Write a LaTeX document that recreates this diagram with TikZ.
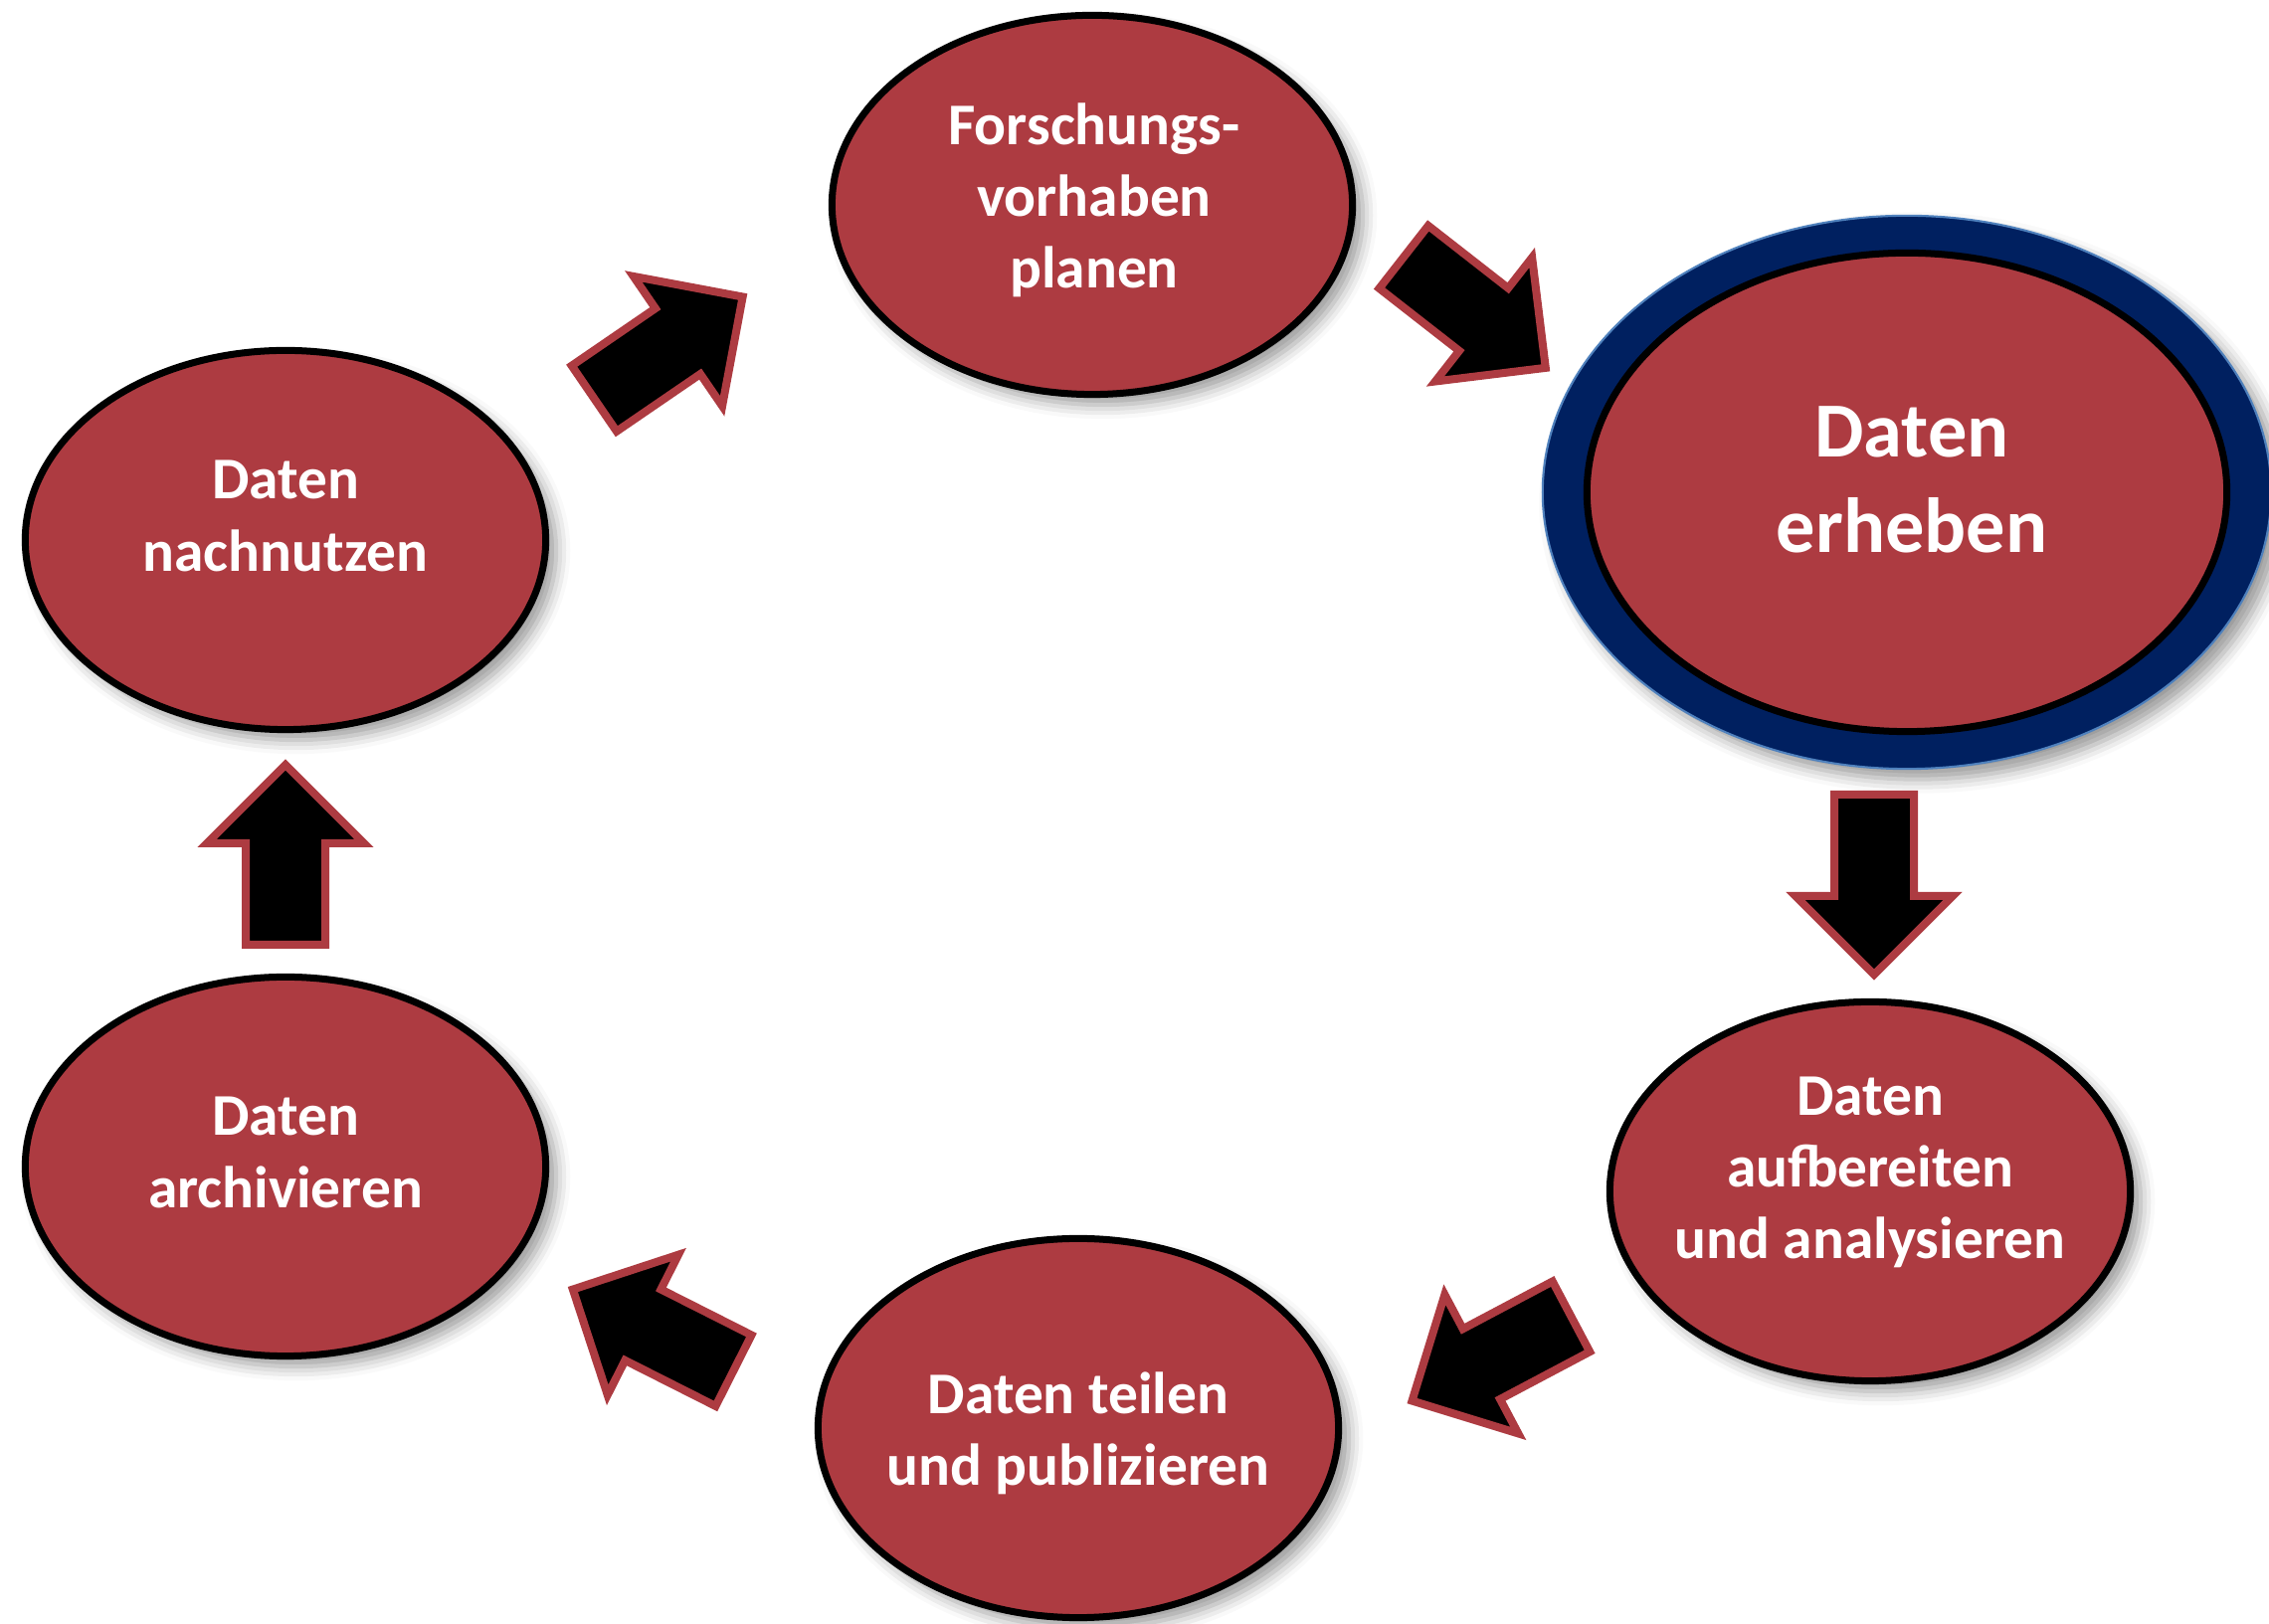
\documentclass[tikz,border=0pt]{standalone}
\usepackage{fontspec}
\setmainfont{Carlito}
\usetikzlibrary{shapes.geometric, shadows.blur}

\definecolor{cyclered}{RGB}{173,59,65}
\definecolor{cyclenavy}{RGB}{0,32,96}
\definecolor{cycleblue}{RGB}{79,129,189}

\tikzset{
	phase/.style = {ellipse, draw = black, line width = 0.07cm, fill = cyclered, inner sep = 0pt, minimum width = 5.23cm, minimum height = 3.81cm},
	lifted/.style = {blur shadow = {shadow xshift = 3pt, shadow yshift = -3pt, shadow blur radius = 4pt}},
	phasetext/.style = {text = white, font = \bfseries\fontsize{16.9}{20.5}\selectfont, align = center, inner sep = 0pt},
	blockarrow/.pic = {\draw [draw = cyclered, fill = black, line width = 0.08cm, line join = miter] (4, -40) -- (106, -40) -- (106, -79) -- (185, 0) -- (106, 79) -- (106, 40) -- (4, 40) -- cycle;}
}

\begin{document}
\begin{tikzpicture}[x = 0.01cm, y = 0.01cm]

	\useasboundingbox (0, 0) rectangle (2281, 1633);

	% Phases

	\node [phase, lifted] (plan) at (1098, 1427) {};
	\node [phase, lifted] (nach) at (287, 1090) {};
	\node [phase, lifted] (arch) at (287, 460) {};
	\node [phase, lifted] (teil) at (1084, 197) {};
	\node [phase, lifted] (aufb) at (1880, 435) {};

	% Highlighted phase

	\node [ellipse, draw = cycleblue, line width = 0.6pt, fill = cyclenavy, minimum width = 7.32cm, minimum height = 5.56cm, lifted] (erh-ring) at (1917, 1138) {};
	\node [phase, minimum width = 6.43cm, minimum height = 4.81cm] (erh) at (1917, 1138) {};

	% Labels

	\node [phasetext] (plan-t) at (1100, 1432) {Forschungs-\\vorhaben\\planen};
	\node [phasetext] (nach-t) at (287, 1114) {Daten\\nachnutzen};
	\node [phasetext] (arch-t) at (287, 474) {Daten\\archivieren};
	\node [phasetext] (teil-t) at (1084, 192) {Daten teilen\\und publizieren};
	\node [phasetext] (aufb-t) at (1880, 454) {Daten\\aufbereiten\\und analysieren};
	\node [phasetext, font = \bfseries\fontsize{22.3}{27.3}\selectfont] (erh-t) at (1922, 1151) {Daten\\erheben};

	% Arrows

	\foreach \x/\y/\a in {594/1230/34.4, 1408/1377/-38, 1884/838/-90, 1583/311/207.9, 741/253/153.2, 287/679/90}
		\pic [rotate = \a] at (\x, \y) {blockarrow};

\end{tikzpicture}
\end{document}
